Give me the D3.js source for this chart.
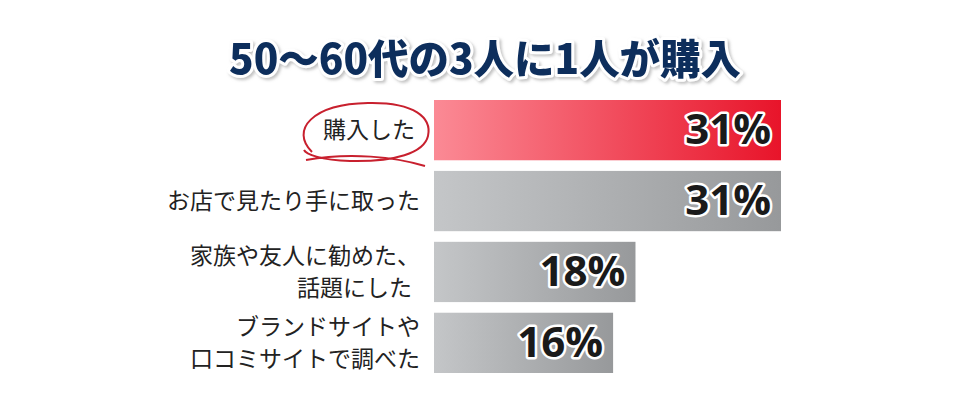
<!DOCTYPE html>
<html><head><meta charset="utf-8">
<script src="https://cdn.jsdelivr.net/npm/d3@7"></script>
<style>body{margin:0;background:#fff}svg{display:block}</style>
</head><body>
<script>
// data
var categories = [['購入した'], ['お店で見たり手に取った'], ['家族や友人に勧めた、', '話題にした'], ['ブランドサイトや', '口コミサイトで調べた']];
var values = [31, 31, 18, 16];
var title = '50〜60代の3人に1人が購入';

var W = 970, H = 416;
var svg = d3.select('body').append('svg').attr('width', W).attr('height', H);
var font = '"Noto Sans CJK JP","Noto Sans",sans-serif';

var x = d3.scaleLinear().domain([0, 31]).range([434, 781]);
var y = d3.scaleBand().domain(d3.range(values.length)).range([100, 373]).paddingInner(0.15);

var defs = svg.append('defs');
var gr = defs.append('linearGradient').attr('id', 'gRed');
gr.append('stop').attr('offset', '0%').attr('stop-color', '#fb8a95');
gr.append('stop').attr('offset', '100%').attr('stop-color', '#e8142a');
var gg = defs.append('linearGradient').attr('id', 'gGray');
gg.append('stop').attr('offset', '0%').attr('stop-color', '#c4c6c8');
gg.append('stop').attr('offset', '100%').attr('stop-color', '#97999b');
var sh = defs.append('filter').attr('id', 'sh').attr('x', '-10%').attr('y', '-10%').attr('width', '130%').attr('height', '140%');
sh.append('feDropShadow').attr('dx', 2).attr('dy', 2).attr('stdDeviation', 1.5).attr('flood-color', '#999').attr('flood-opacity', 0.6);

// title
var t = svg.append('g').attr('filter', 'url(#sh)');
t.append('text').attr('x', 485).attr('y', 74).attr('text-anchor', 'middle')
  .attr('font-family', font).attr('font-weight', 900).attr('font-size', 41)
  .attr('fill', '#0c2d5c').attr('stroke', '#fff').attr('stroke-width', 6).attr('paint-order', 'stroke')
  .attr('stroke-linejoin', 'round').attr('textLength', 512).attr('lengthAdjust', 'spacingAndGlyphs').text(title);

// bars
svg.selectAll('rect.bar').data(values).enter().append('rect')
  .attr('x', x(0)).attr('y', function(d, i) { return y(i); })
  .attr('width', function(d) { return x(d) - x(0); }).attr('height', y.bandwidth())
  .attr('fill', function(d, i) { return i === 0 ? 'url(#gRed)' : 'url(#gGray)'; });

// value labels
svg.selectAll('text.val').data(values).enter().append('text')
  .attr('x', function(d) { return x(d) - 10; })
  .attr('y', function(d, i) { return y(i) + y.bandwidth() / 2 + 14; })
  .attr('text-anchor', 'end').attr('font-family', '"Open Sans",sans-serif').attr('font-weight', 700)
  .attr('font-size', 42).attr('fill', '#1a1a1a').attr('stroke', '#fff').attr('stroke-width', 5)
  .attr('paint-order', 'stroke').attr('stroke-linejoin', 'round')
  .text(function(d) { return d + '%'; });

// category labels
categories.forEach(function(lines, i) {
  var cy = y(i) + y.bandwidth() / 2;
  var tx = svg.append('text').attr('text-anchor', 'end').attr('font-family', font)
    .attr('font-size', 23).attr('fill', '#222');
  lines.forEach(function(l, j) {
    tx.append('tspan').attr('x', i === 2 && j === 1 ? 412 : (i === 0 ? 415 : 420))
      .attr('y', cy + 8 + (j - (lines.length - 1) / 2) * 32).text(l);
  });
});

// red ellipse around first label
svg.append('path')
  .attr('d', 'M312,152 C290,130 312,104 368,103 C415,102 432,118 428,136 C424,153 395,162 350,161 C320,160 306,154 304,150 M306,160 C350,152 395,157 425,166')
  .attr('fill', 'none').attr('stroke', '#c8202e').attr('stroke-width', 2);
</script>
</body></html>
